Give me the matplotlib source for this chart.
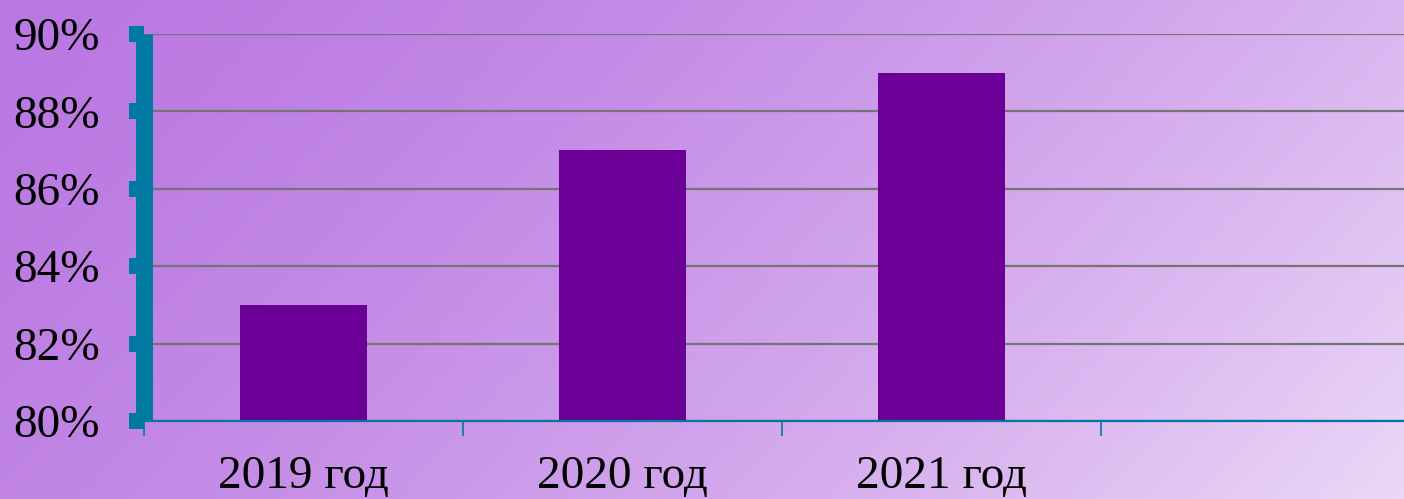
import matplotlib
matplotlib.use("Agg")
import matplotlib.pyplot as plt
import numpy as np

# данные
categories = ["2019 год", "2020 год", "2021 год", ""]
values = [83, 87, 89]
y_ticks = [80, 82, 84, 86, 88, 90]

plt.rcParams['font.family'] = ['Liberation Serif', 'DejaVu Serif']

fig = plt.figure(figsize=(14.04, 4.99), dpi=100)

# фон с градиентом
bg = fig.add_axes([0, 0, 1, 1], zorder=-1)
gx, gy = np.meshgrid(np.linspace(0, 1, 300), np.linspace(0, 1, 120))
t = (np.clip(0.75 * gx + 0.25 * gy, 0, 1) ** 1.5)[..., None]
c0 = np.array([186, 120, 226]) / 255
c1 = np.array([235, 215, 247]) / 255
bg.imshow(c0 + (c1 - c0) * t, aspect='auto', extent=[0, 1, 1, 0])
bg.set_xlim(0, 1)
bg.set_ylim(1, 0)
bg.axis('off')

teal = '#0079a2'
ax = fig.add_axes([0.1026, 0.1563, 0.9088, 0.7756])
ax.set_facecolor('none')

x = np.arange(len(values))
ax.bar(x, values, width=0.4, color='#6b0096', zorder=2)

ax.set_xlim(-0.5, len(categories) - 0.5)
ax.set_ylim(80, 90)

ax.set_yticks(y_ticks)
ax.set_yticklabels([f"{v}%" for v in y_ticks], fontsize=34)
ax.yaxis.grid(True, color='#747474', linewidth=1.6)
ax.set_axisbelow(True)

# деления на границах категорий, подписи по центру
ax.set_xticks(np.arange(len(categories)) - 0.5)
ax.set_xticklabels([])
ax.set_xticks(np.arange(len(categories) - 1), minor=True)
ax.set_xticklabels(categories[:-1], minor=True, fontsize=34)
ax.tick_params(axis='x', which='major', length=11, width=1.2, color=teal, direction='out')
ax.tick_params(axis='x', which='minor', length=0, pad=25)
ax.tick_params(axis='y', length=10.8, width=11.5, color=teal, pad=21)

for s in ['top', 'right']:
    ax.spines[s].set_visible(False)
ax.spines['left'].set_color(teal)
ax.spines['left'].set_linewidth(12.2)
ax.spines['left'].set_capstyle('butt')
ax.spines['bottom'].set_color(teal)
ax.spines['bottom'].set_linewidth(1.6)
ax.spines['bottom'].set_zorder(3)

fig.savefig('out.png', dpi=100)
